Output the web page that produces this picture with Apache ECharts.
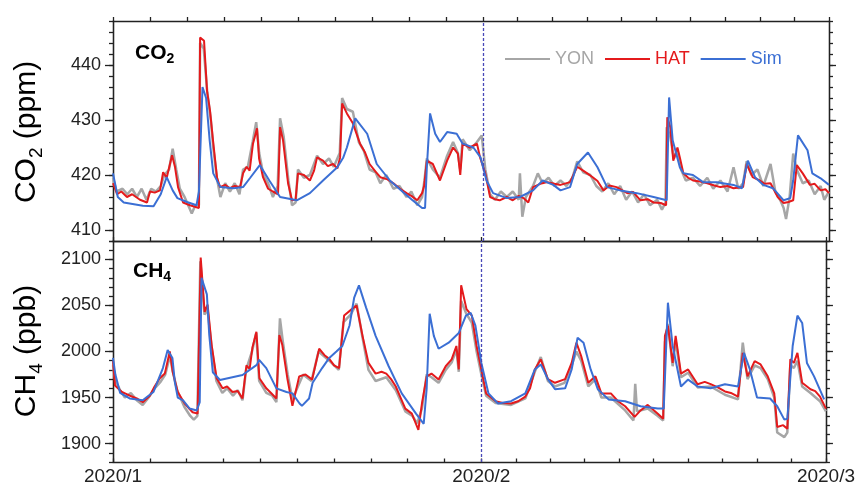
<!DOCTYPE html>
<html style="height: 100%">

<head>
    <meta charset="utf-8">
    <title>index</title>
    <style>
        html, body { margin: 0; padding: 0; background: #fff; }
        #container {
            width: 858px;
            height: 486px;
        }
    </style>
</head>

<body>
    <div id="container"></div>
</body>
<script src="https://cdn.jsdelivr.net/npm/echarts@6/dist/echarts.min.js"></script>
<script type="text/javascript">
    // [day since 2020/1/1, value]
    var co2Yon = [
        [0, 419.5], [0.3, 417], [0.8, 417.5], [1.2, 416.5], [1.6, 417.5], [2.0, 416], [2.4, 417.5], [2.8, 415.5],
        [3.2, 417.5], [3.6, 417], [4.0, 418], [4.3, 420], [4.7, 421], [5.0, 424.8], [5.3, 421], [5.6, 417.5],
        [6.0, 416], [6.4, 414], [6.6, 413], [6.9, 414.5], [7.2, 414.5], [7.3, 444], [7.6, 443], [7.9, 435],
        [8.2, 430], [8.4, 425], [8.7, 419.5], [9.0, 416], [9.4, 418.5], [9.8, 417], [10.2, 418.5], [10.6, 416.5],
        [10.9, 421], [11.3, 421.5], [11.7, 426], [12.0, 429.6], [12.25, 424], [12.6, 420], [13.0, 418.5], [13.4, 416],
        [13.8, 418], [14.0, 430.3], [14.3, 427], [14.7, 419], [15.0, 414.5], [15.3, 415], [15.5, 421], [16.0, 419.5],
        [16.5, 420], [17.1, 423.5], [17.6, 422], [18.1, 423], [18.5, 421.5], [19.0, 424], [19.2, 434], [19.6, 432],
        [20.1, 431.5], [20.6, 426], [21.0, 424.5], [21.5, 421], [22.0, 420.5], [22.4, 418.5], [22.9, 420], [23.5, 417.5],
        [24.0, 418], [24.6, 416], [25.0, 417], [25.5, 414.5], [25.9, 416], [26.1, 419], [26.3, 423], [26.8, 421],
        [27.4, 419.5], [28.0, 423.5], [28.5, 426], [28.9, 424], [29.1, 421], [29.3, 426.5], [29.9, 424.5], [30.5, 426],
        [30.9, 427.2], [31.2, 421], [31.6, 416.5], [32.0, 415.5], [32.5, 417], [33.0, 416], [33.5, 417], [34.0, 415.5],
        [34.1, 420.3], [34.3, 412.4], [34.6, 416], [35.2, 418], [35.6, 420.3], [36.0, 418.5], [36.5, 419.5], [37.0, 418],
        [37.5, 419], [38.0, 418], [38.5, 419.5], [38.9, 422.5], [39.4, 420.5], [40.0, 420], [40.5, 418], [41.0, 417],
        [41.5, 418.5], [42.0, 416.5], [42.5, 418], [43.0, 415.5], [43.5, 417], [44.0, 415], [44.5, 416.5], [45.0, 414.5],
        [45.6, 415.5], [46.0, 413.7], [46.3, 415], [46.4, 428.7], [46.7, 427], [47.0, 423], [47.3, 424.5], [47.6, 421],
        [48.0, 419], [48.6, 419.5], [49.2, 418], [49.8, 419.5], [50.3, 417.5], [50.9, 419], [51.5, 417], [52.0, 421.4],
        [52.4, 417.5], [52.8, 418.5], [53.1, 422.5], [53.5, 420], [54.0, 421], [54.5, 418], [55.1, 422], [55.5, 417],
        [55.9, 415.5], [56.2, 414], [56.4, 412], [56.7, 416], [57.0, 423.9], [57.3, 421], [57.8, 418.5], [58.3, 419],
        [58.8, 416.5], [59.3, 418], [59.6, 415.5], [60, 417]
    ];
    var co2Hat = [
        [0, 418.5], [0.34, 416.5], [0.7, 417], [1.17, 416], [1.6, 416.5], [2.26, 415.5], [2.85, 415], [3.1, 417],
        [3.5, 416.8], [3.94, 417.2], [4.2, 420.5], [4.5, 419.5], [4.95, 423.6], [5.2, 421.4], [5.45, 417.8], [5.87, 415],
        [6.45, 414.5], [7.2, 414], [7.3, 445], [7.63, 444.4], [7.88, 435.3], [8.13, 431.7], [8.38, 426.3], [8.72, 419.5],
        [8.97, 417.8], [9.4, 418.2], [9.8, 417.6], [10.2, 418], [10.65, 417.8], [10.9, 420.3], [11.2, 421.5], [11.45, 420.8],
        [11.73, 425.7], [12.07, 428.5], [12.24, 423], [12.57, 419.6], [13.0, 417.5], [13.4, 417], [13.83, 416.5], [14.0, 428.7],
        [14.25, 426.3], [14.67, 418.5], [15.0, 415.4], [15.3, 415.5], [15.5, 420.3], [16.0, 420], [16.5, 419], [16.85, 420.8],
        [17.1, 423.2], [17.6, 422.6], [18.0, 421.6], [18.44, 422], [18.8, 421.2], [19.03, 423.2], [19.2, 433], [19.6, 431.2],
        [20.1, 429.4], [20.7, 425.7], [21.1, 424.2], [21.5, 422], [22.0, 420.6], [22.4, 419.6], [23.0, 419.2], [23.5, 418.5],
        [24.0, 417.6], [24.6, 416.7], [25.0, 416.2], [25.5, 415.4], [25.9, 416.7], [26.07, 418], [26.3, 422.6], [26.8, 422],
        [27.4, 419], [28.0, 422.6], [28.5, 425], [28.9, 423.9], [29.1, 420], [29.3, 425.7], [29.9, 425], [30.5, 425.7],
        [30.76, 423.2], [31.2, 420.3], [31.6, 416], [32.0, 415.6], [32.4, 415.4], [33.0, 416], [33.5, 415.4], [34.0, 416.2],
        [34.4, 415.8], [34.8, 415], [35.2, 417.8], [35.8, 418.4], [36.4, 418.7], [37.0, 418.4], [37.5, 418.2], [38.3, 418.7],
        [38.9, 421.5], [39.4, 420.8], [39.8, 420.2], [40.2, 419.6], [40.6, 418.9], [41.1, 417.2], [41.6, 418.1], [42.2, 417.8],
        [43.1, 416.7], [43.6, 416.9], [44.2, 415.4], [44.8, 415.6], [45.3, 415], [45.9, 414.9], [46.35, 414.5], [46.45, 430.5],
        [46.7, 428.7], [46.95, 422.6], [47.3, 425], [47.5, 423.2], [47.8, 420.3], [48.2, 419.5], [48.6, 419], [49.2, 418.8],
        [49.8, 418.5], [50.4, 418.1], [50.9, 417.8], [51.5, 418.0], [52.0, 417.6], [52.8, 417.8], [53.1, 422], [53.6, 419.6],
        [54.2, 419], [54.6, 418.4], [55.1, 418.5], [55.7, 416], [56.2, 414.9], [56.6, 415.1], [57.0, 415.4], [57.3, 421.8],
        [57.8, 420.3], [58.4, 418.2], [58.8, 418.4], [59.3, 417.2], [59.7, 417.4], [60, 416.7]
    ];
    var co2Sim = [
        [0, 420.3], [0.4, 416], [0.9, 415], [2.5, 414.4], [3.4, 414.3], [4.0, 416.5], [4.5, 419.6], [5.0, 417.2],
        [5.4, 415.8], [6.2, 415.1], [7.0, 414.5], [7.2, 417], [7.5, 436], [7.8, 434], [8.1, 426.3], [8.4, 420.3],
        [9.0, 417.8], [10.1, 417.6], [10.9, 417.8], [11.5, 419.5], [12.3, 421.8], [13.1, 419], [14.0, 416], [15.4, 415.4],
        [16.5, 416.7], [17.6, 419], [18.8, 421.4], [19.3, 423.2], [19.6, 425], [20.3, 430.3], [21.3, 427.5], [22.1, 422],
        [23.2, 419], [24.3, 416.9], [25.1, 415.4], [25.9, 414], [26.15, 414], [26.3, 421.4], [26.57, 431.2], [27.0, 427.5],
        [27.4, 426], [28.0, 427.8], [28.8, 427.5], [29.3, 425.7], [30.2, 425], [30.8, 423.2], [31.3, 419], [31.85, 416.7],
        [33.0, 415.8], [34.1, 416], [35.2, 417.2], [36.0, 419], [36.9, 418.2], [37.5, 417.2], [38.3, 417.8], [38.9, 422],
        [39.8, 424.1], [40.6, 421.4], [41.4, 417.8], [42.5, 417.2], [43.9, 416.7], [45.3, 416], [46.4, 415.4], [46.6, 434.1],
        [46.9, 426.3], [47.5, 421.4], [47.8, 420.3], [48.6, 420], [49.45, 418.7], [50.6, 418.7], [52.0, 418.2], [52.7, 417.6],
        [53.2, 422.6], [53.8, 419.6], [54.5, 418.2], [55.3, 417.6], [56.2, 415.4], [56.75, 415.8], [57.0, 419], [57.4, 427.2],
        [58.2, 424.5], [58.6, 420.3], [59.3, 419.4], [60, 418.2]
    ];
    var ch4Yon = [
        [0, 1985], [0.2, 1968], [0.6, 1958], [1.0, 1950], [1.5, 1955], [2.0, 1947], [2.5, 1942], [3.0, 1950],
        [3.5, 1960], [4.0, 1967], [4.4, 1975], [4.8, 1996], [5.0, 1980], [5.4, 1958], [6.0, 1940], [6.5, 1930],
        [6.8, 1926], [7.1, 1930], [7.35, 2098], [7.7, 2040], [7.95, 2046], [8.3, 2005], [8.7, 1968], [9.2, 1955],
        [9.6, 1960], [10.1, 1952], [10.5, 1958], [10.9, 1947], [11.2, 1980], [11.7, 2000], [12.05, 2020], [12.3, 1968],
        [12.9, 1955], [13.4, 1952], [13.75, 1945], [14.05, 2036], [14.3, 2010], [14.7, 1975], [15.1, 1948], [15.5, 1960],
        [16.0, 1975], [16.7, 1968], [17.3, 2000], [18.2, 1990], [19.0, 1980], [19.4, 2032], [20.0, 2040], [20.5, 2052],
        [21.0, 2015], [21.5, 1980], [22.1, 1968], [23.0, 1972], [23.8, 1958], [24.6, 1935], [25.2, 1930], [25.6, 1922],
        [26.0, 1938], [26.4, 1975], [26.8, 1972], [27.4, 1966], [28.0, 1980], [28.5, 1988], [28.9, 2002], [29.1, 1978],
        [29.3, 2055], [29.7, 2042], [30.2, 2031], [30.6, 2000], [31.0, 1975], [31.4, 1952], [32.2, 1944], [33.5, 1942],
        [34.7, 1949], [35.5, 1978], [36.0, 1994], [36.6, 1968], [37.2, 1962], [38.0, 1966], [38.6, 1985], [39.0, 2000],
        [39.4, 1990], [40.0, 1962], [40.6, 1970], [41.1, 1950], [41.9, 1950], [43.1, 1936], [43.8, 1925], [43.95, 1965],
        [44.1, 1935], [45.0, 1938], [45.85, 1930], [46.3, 1925], [46.45, 2010], [46.7, 2030], [47.1, 1984], [47.35, 2012],
        [47.8, 1972], [48.4, 1977], [49.2, 1961], [50.3, 1962], [51.5, 1953], [52.6, 1948], [53.0, 2009.6], [53.4, 1970],
        [54.0, 1985], [54.5, 1982], [55.1, 1970], [55.65, 1950], [55.9, 1912], [56.5, 1907], [56.75, 1912], [57.0, 1985],
        [57.3, 1982], [57.6, 1990], [58.0, 1962], [58.7, 1955], [59.5, 1946], [60, 1935]
    ];
    var ch4Hat = [
        [0, 1990], [0.17, 1963], [0.75, 1956], [1.1, 1954], [1.42, 1952], [2.0, 1949], [2.5, 1945], [3.1, 1952],
        [3.5, 1962], [3.94, 1971], [4.36, 1976], [4.78, 2000], [5.03, 1977.6], [5.45, 1956], [6.03, 1943.5], [6.7, 1934],
        [7.12, 1932.5], [7.38, 2102], [7.71, 2043], [7.96, 2051], [8.3, 2007], [8.72, 1971], [9.22, 1960], [9.6, 1962],
        [10.06, 1956], [10.5, 1957], [10.9, 1949], [11.23, 1985], [11.5, 1981], [11.73, 2004], [12.07, 2021.5], [12.32, 1971],
        [12.9, 1960], [13.3, 1955], [13.75, 1949], [14.0, 2018], [14.25, 2007], [14.67, 1971], [15.1, 1941], [15.67, 1973],
        [16.2, 1975], [16.76, 1969.5], [17.35, 2003], [17.8, 1996], [18.2, 1992], [18.6, 1985], [19.03, 1982], [19.45, 2039],
        [20.1, 2046], [20.5, 2050], [21.0, 2017], [21.5, 1987.6], [22.1, 1976], [22.6, 1978], [23.0, 1976], [23.4, 1970],
        [23.8, 1962], [24.2, 1950], [24.6, 1938], [25.15, 1932.5], [25.7, 1915], [26.0, 1943.5], [26.4, 1973], [26.8, 1976],
        [27.4, 1969.5], [28.0, 1984], [28.5, 1991.5], [28.9, 2006], [29.1, 1980.5], [29.3, 2072], [29.75, 2046], [30.2, 2039],
        [30.6, 2006], [31.0, 1980.5], [31.4, 1954.5], [32.2, 1946], [32.8, 1944], [33.5, 1943.5], [34.1, 1946], [34.7, 1951],
        [35.1, 1960], [35.5, 1980.5], [36.0, 1991.5], [36.6, 1970], [37.2, 1966], [38.05, 1970], [38.6, 1987.6], [39.0, 2009.6],
        [39.4, 1995], [40.0, 1966], [40.6, 1973], [41.1, 1954.5], [41.9, 1954.5], [42.5, 1946], [43.1, 1940.5], [43.9, 1929],
        [44.4, 1936], [45.0, 1942], [45.85, 1932.5], [46.3, 1927], [46.45, 2017], [46.7, 2028], [47.1, 1987.6], [47.35, 2017],
        [47.8, 1976], [48.4, 1980.5], [49.2, 1964.5], [49.8, 1967], [50.3, 1964.5], [50.9, 1961], [51.5, 1956.6], [52.0, 1955],
        [52.6, 1951], [53.0, 1998.5], [53.4, 1973], [54.0, 1989.6], [54.5, 1986], [55.1, 1973], [55.65, 1954.5], [55.9, 1918],
        [56.4, 1920], [56.75, 1916], [57.0, 1991.5], [57.3, 1987.6], [57.6, 1998.5], [58.0, 1966], [58.7, 1959], [59.1, 1957],
        [59.5, 1951], [60, 1938]
    ];
    var ch4Sim = [
        [0, 1993], [0.2, 1975], [0.6, 1955], [1.4, 1949], [2.5, 1947], [3.4, 1956], [4.2, 1982], [4.6, 2001.6],
        [5.0, 1993], [5.2, 1967], [5.45, 1950], [5.9, 1947], [6.0, 1949], [6.45, 1938], [7.05, 1936], [7.3, 1945],
        [7.45, 2080], [7.9, 2062], [8.1, 2018], [8.4, 1977.5], [9.0, 1969], [10.9, 1974.5], [12.1, 1985.5], [12.3, 1991],
        [12.9, 1982], [13.75, 1960], [14.6, 1956], [15.1, 1954.5], [15.7, 1943.5], [15.9, 1941], [16.5, 1949], [16.8, 1966],
        [17.6, 1982], [18.2, 1993], [18.8, 2000], [19.3, 2006], [19.9, 2028], [20.3, 2058.6], [20.7, 2071.8], [21.3, 2047.7],
        [22.1, 2017], [23.2, 1984], [24.3, 1954.5], [25.5, 1932.5], [26.15, 1921.5], [26.4, 1960], [26.65, 2041], [27.0, 2017],
        [27.4, 2003], [28.25, 2009.6], [29.1, 2020], [29.7, 2039], [30.1, 2042], [30.5, 2028], [31.0, 1987.6], [31.6, 1954.5],
        [32.4, 1943.5], [33.5, 1946], [34.7, 1954.5], [35.5, 1980.5], [36.0, 1986], [36.6, 1970], [37.2, 1959], [38.05, 1960],
        [38.6, 1980.5], [39.1, 2015], [39.6, 2009.6], [40.2, 1980.5], [40.8, 1959], [41.7, 1948], [43.1, 1946], [44.4, 1940.5],
        [45.85, 1938], [46.35, 1938], [46.7, 2053], [47.1, 2006], [47.8, 1962], [48.4, 1969.5], [49.2, 1962], [50.3, 1960],
        [51.5, 1964.5], [52.6, 1962], [53.1, 1998.5], [53.6, 1980.5], [54.2, 1950], [55.3, 1949], [55.9, 1940.5], [56.5, 1926],
        [56.75, 1927], [57.2, 2006], [57.6, 2039], [58.0, 2031], [58.4, 1987.6], [59.0, 1973], [59.85, 1948]
    ];

    var co2Major = [410, 420, 430, 440];
    var ch4Major = [1900, 1950, 2000, 2050, 2100];
    var xLabels = ['2020/1', '2020/2', '2020/3'];

    var DAY = 86400000;
    var t0 = new Date(2020, 0, 1).getTime();
    var monthStarts = [t0, new Date(2020, 1, 1).getTime(), new Date(2020, 2, 1).getTime()];
    var tMax = monthStarts[2];

    // ten tick marks per month
    var xTicks = [];
    for (var m = 0; m < 2; m++) {
        for (var k = 0; k < 10; k++) {
            xTicks.push(monthStarts[m] + (monthStarts[m + 1] - monthStarts[m]) * k / 10);
        }
    }
    xTicks.push(tMax);

    function steps(a, b, s) {
        var out = [];
        for (var v = a; v <= b + 1e-9; v += s) out.push(v);
        return out;
    }
    var co2Minor = steps(408, 448, 2);
    var ch4Minor = steps(1880, 2120, 10);

    function toTime(arr) {
        return arr.map(function (p) { return [t0 + p[0] * DAY, p[1]]; });
    }

    var FONT = 'Liberation Sans, Arial, sans-serif';
    var AX = { lineStyle: { color: '#222', width: 1.3 } };
    var colors = { YON: '#a6a6a6', HAT: '#e41a1c', Sim: '#3b6fd4' };

    function xAxisOf(grid, pos, opts) {
        return Object.assign({
            type: 'value', gridIndex: grid, position: pos, min: t0, max: tMax,
            axisLine: { show: true, onZero: false, lineStyle: AX.lineStyle },
            axisTick: { show: false },
            axisLabel: { show: false },
            splitLine: { show: false }
        }, opts || {});
    }
    function yAxisOf(grid, pos, min, max, ticks, len, labels) {
        return {
            type: 'value', gridIndex: grid, position: pos, min: min, max: max,
            axisLine: { show: true, onZero: false, lineStyle: AX.lineStyle },
            axisTick: { show: true, customValues: ticks, length: len, lineStyle: AX.lineStyle },
            axisLabel: labels ? {
                show: true, customValues: labels, margin: 12,
                fontFamily: FONT, fontSize: 18, color: '#222',
                formatter: function (v) { return String(v); }
            } : { show: false },
            splitLine: { show: false }
        };
    }

    var tickStyle = { show: true, customValues: xTicks, length: 4, lineStyle: AX.lineStyle };

    var xAxis = [
        xAxisOf(0, 'top', { axisTick: tickStyle }),
        xAxisOf(0, 'bottom'),
        xAxisOf(1, 'bottom', {
            axisTick: Object.assign({}, tickStyle, { inside: true, length: 3.5 }),
            axisLabel: {
                show: true, customValues: monthStarts, margin: 5,
                fontFamily: FONT, fontSize: 19, color: '#222',
                formatter: function (v) {
                    var i = monthStarts.indexOf(Math.round(v));
                    return i >= 0 ? xLabels[i] : '';
                }
            }
        }),
        xAxisOf(1, 'top', { axisTick: tickStyle })
    ];

    var yAxis = [
        yAxisOf(0, 'left', 408, 448, co2Major, 8, co2Major),
        yAxisOf(0, 'left', 408, 448, co2Minor, 4),
        yAxisOf(0, 'right', 408, 448, co2Major, 7),
        yAxisOf(0, 'right', 408, 448, co2Minor, 4),
        yAxisOf(1, 'left', 1880, 2120, ch4Major, 8, ch4Major),
        yAxisOf(1, 'left', 1880, 2120, ch4Minor, 4),
        yAxisOf(1, 'right', 1880, 2120, ch4Major, 7),
        yAxisOf(1, 'right', 1880, 2120, ch4Minor, 4)
    ];

    var febLine = {
        silent: true, symbol: 'none', label: { show: false },
        lineStyle: { color: '#4848b8', type: [3, 2], width: 1.3 },
        data: [{ xAxis: monthStarts[1] }]
    };

    function line(name, data, xi, yi, width, mark) {
        var s = {
            name: name, type: 'line', xAxisIndex: xi, yAxisIndex: yi,
            data: toTime(data), symbol: 'none', showSymbol: false,
            lineStyle: { color: colors[name], width: width },
            itemStyle: { color: colors[name] },
            animation: false
        };
        if (mark) s.markLine = febLine;
        return s;
    }

    var series = [
        line('YON', co2Yon, 0, 0, 2.5, true),
        line('HAT', co2Hat, 0, 0, 2),
        line('Sim', co2Sim, 0, 0, 2),
        line('YON', ch4Yon, 2, 4, 2.5, true),
        line('HAT', ch4Hat, 2, 4, 2),
        line('Sim', ch4Sim, 2, 4, 2)
    ];

    // subscript via rich text: small token pinned to the bottom of a tall line
    var sub = function (big, small, drop, bold) {
        return {
            a: { fontFamily: FONT, fontSize: big, fontWeight: bold ? 'bold' : 'normal', color: '#111', lineHeight: big + drop },
            b: { fontFamily: FONT, fontSize: small, fontWeight: bold ? 'bold' : 'normal', color: '#111', lineHeight: 2, verticalAlign: 'bottom' }
        };
    };

    var dom = document.getElementById("container");
    var myChart = echarts.init(dom);
    var option = {
        backgroundColor: '#fff',
        animation: false,
        grid: [
            { left: 113, right: 29, top: 21, height: 220 },
            { left: 113, right: 29, top: 241, height: 221 }
        ],
        legend: {
            data: ['YON', 'HAT', 'Sim'].map(function (n) {
                return { name: n, icon: 'rect', itemStyle: { color: colors[n] }, textStyle: { color: colors[n] } };
            }),
            left: 500, top: 45,
            itemWidth: 45, itemHeight: 2, itemGap: 11,
            textStyle: { fontFamily: FONT, fontSize: 18 }
        },
        xAxis: xAxis,
        yAxis: yAxis,
        series: series,
        graphic: [
            {
                type: 'text', x: 135, y: 53,
                style: { text: '{a|CO}{b|2}', rich: sub(21, 14, 6, true), verticalAlign: 'middle' }
            },
            {
                type: 'text', x: 133, y: 271,
                style: { text: '{a|CH}{b|4}', rich: sub(21, 14, 6, true), verticalAlign: 'middle' }
            },
            {
                type: 'text', x: 27, y: 132, rotation: Math.PI / 2,
                style: { text: '{a|CO}{b|2}{a| (ppm)}', rich: sub(30, 19, 8), align: 'center', verticalAlign: 'middle' }
            },
            {
                type: 'text', x: 27, y: 351, rotation: Math.PI / 2,
                style: { text: '{a|CH}{b|4}{a| (ppb)}', rich: sub(30, 19, 8), align: 'center', verticalAlign: 'middle' }
            }
        ]
    };
    if (option && typeof option === "object") {
        myChart.setOption(option, true);
    };
</script>

</html>
